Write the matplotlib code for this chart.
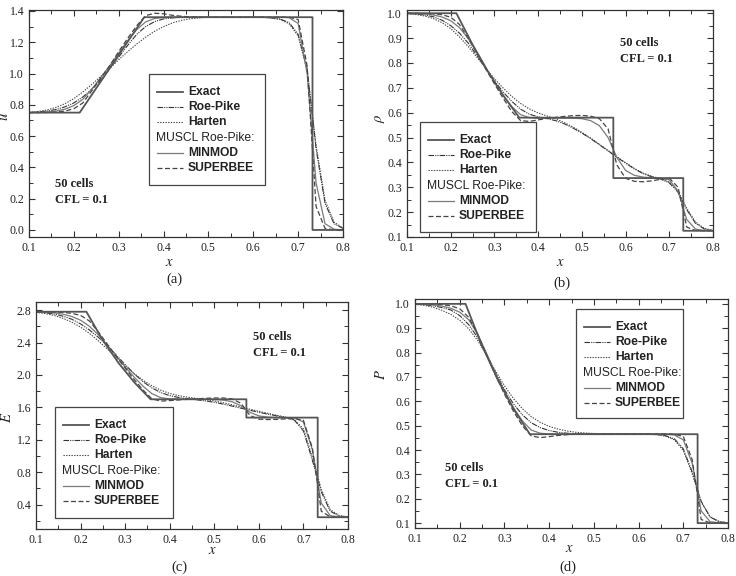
import matplotlib.pyplot as plt
from matplotlib.lines import Line2D
from matplotlib.patches import Rectangle
from matplotlib.ticker import MultipleLocator, FormatStrFormatter

plt.rcParams['font.family'] = ['Liberation Serif', 'DejaVu Serif']
plt.rcParams['mathtext.fontset'] = 'stix'

W, H = 736, 576

# cell positions of the numerical solutions
x = [0.10, 0.12, 0.14, 0.16, 0.18, 0.20, 0.22, 0.24, 0.26, 0.28,
     0.30, 0.32, 0.34, 0.36, 0.38, 0.40, 0.42, 0.44, 0.46, 0.48,
     0.50, 0.52, 0.54, 0.56, 0.58, 0.60, 0.62, 0.64, 0.66, 0.68,
     0.70, 0.72, 0.74, 0.76, 0.78, 0.80]

# (a) velocity
u_exact_x = [0.1, 0.213, 0.357, 0.732, 0.732, 0.8]
u_exact = [0.75, 0.75, 1.36, 1.36, 0.0, 0.0]
u_roe = [0.751, 0.754, 0.760, 0.770, 0.787, 0.812, 0.850, 0.900, 0.960, 1.030,
         1.105, 1.180, 1.250, 1.300, 1.332, 1.349, 1.356, 1.359, 1.360, 1.360,
         1.360, 1.360, 1.360, 1.360, 1.360, 1.360, 1.359, 1.356, 1.348, 1.325,
         1.250, 1.030, 0.520, 0.170, 0.040, 0.010]
u_harten = [0.752, 0.757, 0.767, 0.783, 0.807, 0.840, 0.882, 0.930, 0.982, 1.035,
            1.088, 1.140, 1.188, 1.232, 1.270, 1.300, 1.324, 1.340, 1.350, 1.356,
            1.359, 1.360, 1.360, 1.360, 1.360, 1.360, 1.359, 1.355, 1.345, 1.318,
            1.240, 1.020, 0.540, 0.190, 0.050, 0.012]
u_minmod = [0.750, 0.751, 0.754, 0.760, 0.772, 0.795, 0.835, 0.900, 0.975, 1.050,
            1.130, 1.210, 1.280, 1.330, 1.352, 1.358, 1.360, 1.360, 1.360, 1.360,
            1.360, 1.360, 1.360, 1.360, 1.360, 1.360, 1.360, 1.360, 1.360, 1.357,
            1.320, 1.000, 0.300, 0.040, 0.005, 0.000]
u_superbee = [0.750, 0.750, 0.751, 0.753, 0.760, 0.775, 0.812, 0.890, 0.970, 1.050,
              1.140, 1.225, 1.305, 1.370, 1.385, 1.382, 1.372, 1.366, 1.362, 1.361,
              1.360, 1.360, 1.360, 1.360, 1.360, 1.360, 1.360, 1.360, 1.360, 1.360,
              1.345, 1.050, 0.150, 0.010, 0.000, 0.000]

# (b) density
rho_exact_x = [0.1, 0.213, 0.249, 0.285, 0.321, 0.357, 0.572, 0.572, 0.732, 0.732, 0.8]
rho_exact = [1.0, 1.0, 0.877, 0.766, 0.667, 0.58, 0.58, 0.337, 0.337, 0.125, 0.125]
rho_roe = [0.999, 0.997, 0.993, 0.986, 0.972, 0.950, 0.920, 0.880, 0.830, 0.778,
           0.728, 0.683, 0.645, 0.614, 0.594, 0.583, 0.576, 0.568, 0.555, 0.538,
           0.518, 0.496, 0.471, 0.446, 0.421, 0.397, 0.374, 0.355, 0.342, 0.333,
           0.318, 0.280, 0.210, 0.155, 0.132, 0.126]
rho_harten = [0.998, 0.995, 0.989, 0.979, 0.962, 0.938, 0.905, 0.866, 0.823, 0.779,
              0.737, 0.699, 0.665, 0.637, 0.615, 0.599, 0.587, 0.575, 0.560, 0.542,
              0.521, 0.498, 0.473, 0.448, 0.423, 0.399, 0.376, 0.357, 0.344, 0.335,
              0.321, 0.285, 0.215, 0.160, 0.135, 0.127]
rho_minmod = [1.000, 0.999, 0.997, 0.993, 0.985, 0.970, 0.942, 0.898, 0.842, 0.781,
              0.722, 0.670, 0.624, 0.592, 0.580, 0.577, 0.578, 0.578, 0.578, 0.578,
              0.576, 0.568, 0.548, 0.500, 0.420, 0.368, 0.348, 0.341, 0.338, 0.337,
              0.330, 0.285, 0.170, 0.132, 0.126, 0.125]
rho_superbee = [1.000, 1.000, 0.999, 0.998, 0.994, 0.984, 0.955, 0.900, 0.838, 0.776,
                0.716, 0.658, 0.604, 0.568, 0.565, 0.571, 0.577, 0.581, 0.585, 0.588,
                0.589, 0.586, 0.576, 0.535, 0.390, 0.336, 0.324, 0.322, 0.326, 0.332,
                0.337, 0.300, 0.140, 0.126, 0.125, 0.125]

# (c) energy
e_exact_x = rho_exact_x
e_exact = [2.78, 2.78, 2.437, 2.149, 1.906, 1.70, 1.70, 1.474, 1.474, 0.245, 0.245]
e_roe = [2.776, 2.768, 2.752, 2.726, 2.688, 2.630, 2.555, 2.465, 2.360, 2.245,
         2.128, 2.015, 1.918, 1.840, 1.783, 1.745, 1.722, 1.707, 1.694, 1.680,
         1.663, 1.641, 1.616, 1.590, 1.565, 1.540, 1.516, 1.495, 1.475, 1.440,
         1.310, 0.950, 0.560, 0.320, 0.260, 0.248]
e_harten = [2.772, 2.758, 2.735, 2.700, 2.652, 2.590, 2.512, 2.420, 2.320, 2.215,
            2.112, 2.018, 1.935, 1.866, 1.812, 1.772, 1.745, 1.726, 1.711, 1.697,
            1.680, 1.658, 1.632, 1.605, 1.578, 1.552, 1.527, 1.503, 1.480, 1.447,
            1.335, 0.990, 0.590, 0.340, 0.267, 0.250]
e_minmod = [2.780, 2.776, 2.767, 2.750, 2.722, 2.675, 2.600, 2.495, 2.370, 2.235,
            2.100, 1.975, 1.862, 1.770, 1.720, 1.705, 1.702, 1.701, 1.700, 1.700,
            1.698, 1.690, 1.670, 1.620, 1.540, 1.495, 1.480, 1.475, 1.473, 1.470,
            1.420, 1.080, 0.420, 0.265, 0.248, 0.245]
e_superbee = [2.780, 2.780, 2.778, 2.772, 2.760, 2.735, 2.665, 2.530, 2.380, 2.230,
              2.085, 1.945, 1.815, 1.705, 1.678, 1.684, 1.692, 1.700, 1.706, 1.712,
              1.716, 1.716, 1.705, 1.650, 1.500, 1.455, 1.450, 1.452, 1.458, 1.465,
              1.440, 1.100, 0.320, 0.250, 0.245, 0.245]

# (d) pressure
p_exact_x = [0.1, 0.213, 0.249, 0.285, 0.321, 0.357, 0.732, 0.732, 0.8]
p_exact = [1.0, 1.0, 0.832, 0.689, 0.567, 0.465, 0.465, 0.1, 0.1]
p_roe = [0.999, 0.997, 0.992, 0.985, 0.975, 0.952, 0.915, 0.862, 0.792, 0.717,
         0.648, 0.590, 0.545, 0.512, 0.492, 0.480, 0.473, 0.469, 0.467, 0.466,
         0.466, 0.466, 0.466, 0.466, 0.466, 0.466, 0.465, 0.464, 0.459, 0.446,
         0.405, 0.310, 0.190, 0.125, 0.106, 0.101]
p_harten = [0.998, 0.994, 0.986, 0.974, 0.957, 0.933, 0.898, 0.850, 0.790, 0.725,
            0.664, 0.612, 0.570, 0.537, 0.514, 0.497, 0.486, 0.478, 0.473, 0.470,
            0.468, 0.467, 0.466, 0.466, 0.466, 0.466, 0.465, 0.463, 0.457, 0.442,
            0.398, 0.303, 0.186, 0.126, 0.107, 0.101]
p_minmod = [1.000, 0.999, 0.996, 0.991, 0.982, 0.966, 0.935, 0.877, 0.797, 0.715,
            0.640, 0.575, 0.520, 0.482, 0.469, 0.466, 0.466, 0.466, 0.466, 0.466,
            0.466, 0.466, 0.466, 0.466, 0.466, 0.466, 0.466, 0.466, 0.465, 0.462,
            0.442, 0.345, 0.150, 0.106, 0.101, 0.100]
p_superbee = [1.000, 1.000, 0.999, 0.997, 0.992, 0.980, 0.945, 0.875, 0.792, 0.708,
              0.630, 0.560, 0.500, 0.458, 0.451, 0.455, 0.460, 0.463, 0.465, 0.466,
              0.466, 0.466, 0.466, 0.466, 0.466, 0.466, 0.466, 0.466, 0.466, 0.465,
              0.456, 0.360, 0.115, 0.101, 0.100, 0.100]

styles = {
    'Exact': dict(color='#555555', lw=1.3, ls='-'),
    'Roe-Pike': dict(color='#333333', lw=0.8, ls=(0, (5, 1, 1, 1, 1, 1))),
    'Harten': dict(color='#444444', lw=0.8, ls=(0, (1.2, 1.2))),
    'MINMOD': dict(color='#7a7a7a', lw=0.9, ls='-'),
    'SUPERBEE': dict(color='#444444', lw=0.9, ls=(0, (4, 2))),
}

# axes box, legend box, note position, label positions: all in figure pixels
panels = [
    dict(box=(29, 10, 343, 237), ylim=(-0.045, 1.406), major=0.2, minor=0.1,
         ex=(u_exact_x, u_exact), num=(u_roe, u_harten, u_minmod, u_superbee),
         leg=(149, 74, 116, 111), note=(55, 184), ylab=('$u$', 5, 117),
         xlab=(169, 262), cap=('(a)', 174, 279)),
    dict(box=(407, 10, 713, 237), ylim=(0.1, 1.013), major=0.1, minor=0.05,
         ex=(rho_exact_x, rho_exact), num=(rho_roe, rho_harten, rho_minmod, rho_superbee),
         leg=(420, 122, 116, 110), note=(620, 43), ylab=(r'$\rho$', 380, 118),
         xlab=(560, 263), cap=('(b)', 562, 283)),
    dict(box=(36, 302, 348, 529), ylim=(0.1, 2.9), major=0.4, minor=0.2,
         ex=(e_exact_x, e_exact), num=(e_roe, e_harten, e_minmod, e_superbee),
         leg=(55, 407, 118, 111), note=(253, 337), ylab=('$E$', 7, 417),
         xlab=(212, 551), cap=('(c)', 179, 567)),
    dict(box=(415, 299, 728, 528), ylim=(0.08, 1.02), major=0.1, minor=0.05,
         ex=(p_exact_x, p_exact), num=(p_roe, p_harten, p_minmod, p_superbee),
         leg=(576, 309, 107, 109), note=(445, 468), ylab=('$P$', 381, 375),
         xlab=(569, 548), cap=('(d)', 568, 567)),
]

names = ['Roe-Pike', 'Harten', 'MINMOD', 'SUPERBEE']


def fx(px):
    return px / W


def fy(py):
    return 1 - py / H


def draw_legend(fig, left, top, w, h):
    fig.add_artist(Rectangle((fx(left), fy(top + h)), w / W, h / H, transform=fig.transFigure,
                             facecolor='white', edgecolor='#444444', lw=0.9, zorder=5))
    rows = ['Exact', 'Roe-Pike', 'Harten', None, 'MINMOD', 'SUPERBEE']
    for i, name in enumerate(rows):
        yy = top + 18 + i * 15.2
        if name is None:
            fig.text(fx(left + 7), fy(yy), 'MUSCL Roe-Pike:', family='Liberation Sans',
                     fontsize=8.7, color='#222222', va='center', ha='left', zorder=6)
            continue
        st = styles[name]
        fig.add_artist(Line2D([fx(left + 8), fx(left + 34)], [fy(yy), fy(yy)],
                              transform=fig.transFigure, color=st['color'],
                              lw=st['lw'], ls=st['ls'], zorder=6))
        fig.text(fx(left + 39), fy(yy), name, family='Liberation Sans', weight='bold',
                 fontsize=8.7, color='#222222', va='center', ha='left', zorder=6)


fig = plt.figure(figsize=(7.36, 5.76), dpi=100)

for p in panels:
    l, t, r, b = p['box']
    ax = fig.add_axes([fx(l), fy(b), (r - l) / W, (b - t) / H])
    for name, vals in zip(names, p['num']):
        st = styles[name]
        ax.plot(x, vals, color=st['color'], lw=st['lw'], ls=st['ls'])
    st = styles['Exact']
    ax.plot(p['ex'][0], p['ex'][1], color=st['color'], lw=st['lw'], ls=st['ls'])

    ax.set_xlim(0.1, 0.8)
    ax.set_ylim(*p['ylim'])
    ax.xaxis.set_major_locator(MultipleLocator(0.1))
    ax.xaxis.set_minor_locator(MultipleLocator(0.05))
    ax.yaxis.set_major_locator(MultipleLocator(p['major']))
    ax.yaxis.set_minor_locator(MultipleLocator(p['minor']))
    ax.xaxis.set_major_formatter(FormatStrFormatter('%.1f'))
    ax.yaxis.set_major_formatter(FormatStrFormatter('%.1f'))
    ax.tick_params(which='both', direction='in', top=True, right=True,
                   labelsize=8.5, labelcolor='#222222', color='#333333')
    ax.tick_params(which='major', length=4, width=0.8)
    ax.tick_params(which='minor', length=3, width=0.7)
    for sp in ax.spines.values():
        sp.set_color('#333333')
        sp.set_linewidth(0.9)

    draw_legend(fig, *p['leg'])

    nx_, ny_ = p['note']
    fig.text(fx(nx_), fy(ny_), '50 cells', fontsize=9, weight='bold', color='#222222',
             va='center', ha='left')
    fig.text(fx(nx_), fy(ny_ + 16), 'CFL = 0.1', fontsize=9, weight='bold', color='#222222',
             va='center', ha='left')

    lab, lx, ly = p['ylab']
    fig.text(fx(lx), fy(ly), lab, fontsize=10.5, color='#222222', rotation=90,
             va='center', ha='center')
    fig.text(fx(p['xlab'][0]), fy(p['xlab'][1]), '$x$', fontsize=10.5, color='#222222',
             va='center', ha='center')
    cap, cx, cy = p['cap']
    fig.text(fx(cx), fy(cy), cap, fontsize=10.5, color='#222222', va='center', ha='center')

fig.savefig('out.png', dpi=100)
